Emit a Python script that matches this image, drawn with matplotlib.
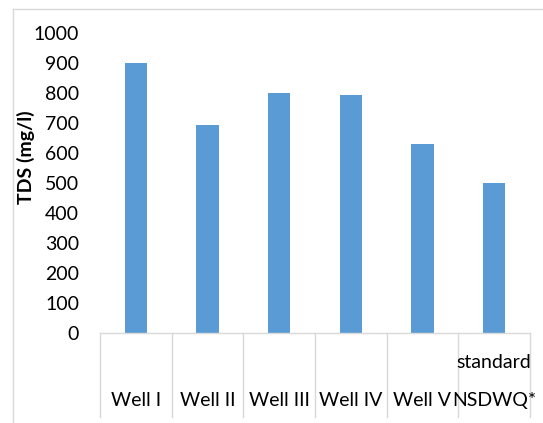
import matplotlib
matplotlib.use("Agg")
import matplotlib.pyplot as plt
from matplotlib.lines import Line2D
from matplotlib.transforms import blended_transform_factory

# Total dissolved solids per well, with the NSDWQ standard for comparison
categories = ["Well I", "Well II", "Well III", "Well IV", "Well V", "NSDWQ*"]
upper_labels = ["", "", "", "", "", "standard"]
tds_values = [902, 694, 802, 794, 632, 500]
y_ticks = [0, 100, 200, 300, 400, 500, 600, 700, 800, 900, 1000]

plt.rcParams["font.family"] = ["Lato", "DejaVu Sans"]
FS = 14

W, H = 543, 423
fig = plt.figure(figsize=(W / 100, H / 100), dpi=100)
fig.patch.set_facecolor("white")

left_px, right_px, bottom_px, top_px = 100, 530, 333.3, 33.3
ax = fig.add_axes([left_px / W, 1 - bottom_px / H,
                   (right_px - left_px) / W, (bottom_px - top_px) / H])

grid_gray = "#D9D9D9"
bar_blue = "#5B9BD5"

x = list(range(len(categories)))
ax.bar(x, tds_values, width=0.31, color=bar_blue, zorder=2)

ax.set_xlim(-0.5, len(categories) - 0.5)
ax.set_ylim(0, 1000)
ax.set_yticks(y_ticks)
ax.set_yticklabels([str(v) for v in y_ticks], fontsize=FS, color="#000000")
ax.tick_params(axis="y", length=0, pad=15)
ax.set_xticks([])

for side in ("left", "right", "top"):
    ax.spines[side].set_visible(False)
ax.spines["bottom"].set_color(grid_gray)
ax.spines["bottom"].set_linewidth(1.0)

ax.set_ylabel("TDS (mg/l)", fontsize=FS, fontweight="bold")
ax.yaxis.set_label_coords(-0.152, 0.586)

# Category boxes below the axis: separators and two rows of labels
trans = blended_transform_factory(ax.transData, ax.transAxes)
axes_h_px = bottom_px - top_px
sep_bottom = -(416.7 - bottom_px) / axes_h_px
for edge in [i - 0.5 for i in range(len(categories) + 1)]:
    ax.add_line(Line2D([edge, edge], [0, sep_bottom], transform=trans,
                       color=grid_gray, linewidth=1.0, clip_on=False))

lower_y = -(400.7 - bottom_px) / axes_h_px
upper_y = -(362.7 - bottom_px) / axes_h_px
for xi, lab, up in zip(x, categories, upper_labels):
    ax.text(xi, lower_y, lab, transform=trans, ha="center", va="center",
            fontsize=FS, color="#000000")
    if up:
        ax.text(xi, upper_y, up, transform=trans, ha="center", va="center",
                fontsize=FS, color="#000000")

# Chart area frame
fx = 12.7 / W
fy = 1 - 9.3 / H
fig.add_artist(Line2D([fx, fx], [0, fy], transform=fig.transFigure,
                      color=grid_gray, linewidth=1.0))
fig.add_artist(Line2D([fx, 1], [fy, fy], transform=fig.transFigure,
                      color=grid_gray, linewidth=1.0))

fig.savefig("out.png", dpi=100, facecolor="white")
